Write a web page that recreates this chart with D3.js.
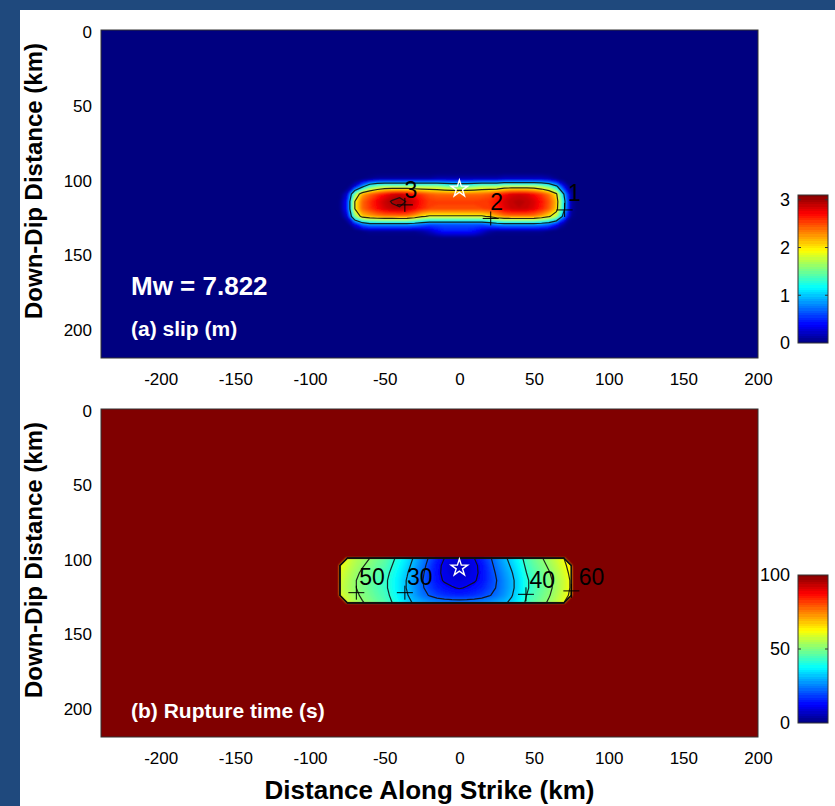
<!DOCTYPE html>
<html><head><meta charset="utf-8">
<script src="https://cdn.jsdelivr.net/npm/d3@7"></script>
<style>
html,body{margin:0;padding:0;background:#fff;}
svg{display:block;}
</style></head><body>
<svg id="fig" width="835" height="806"></svg>
<script>
// ---- fault-plane grid (km) ----
const strikeKm = [-90,-85,-80,-75,-70,-65,-60,-55,-50,-45,-40,-35,-30,-25,-20,-15,-10,-5,
                  0,5,10,15,20,25,30,35,40,45,50,55,60,65,70,75,80,85];
const dipKm = [95,100,105,110,115,120,125,130,135,140];

// slip (m), one row per down-dip position
const slipRows = [
  [0,0,0,0,0,0,0,0,0,0,0,0,0,0,0,0,0,0,0,0,0,0,0,0,0,0,0,0,0,0,0,0,0,0,0,0],
  [0,0,0,0,0,0.05,0.1,0.15,0.15,0.15,0.15,0.15,0.15,0.15,0.15,0.2,0.2,0.2,0.2,0.2,0.2,0.2,0.2,0.2,0.25,0.25,0.25,0.25,0.25,0.25,0.2,0.1,0.02,0,0,0],
  [0,0,0,0.02,0.3,0.9,1.4,1.6,1.7,1.7,1.7,1.7,1.7,1.7,1.7,1.7,1.6,1.5,1.5,1.5,1.6,1.7,1.7,1.7,1.8,1.8,1.8,1.8,1.8,1.7,1.5,1.1,0.4,0.02,0,0],
  [0,0,0.03,0.3,1.6,2.25,2.45,2.6,2.75,2.88,2.92,2.86,2.72,2.6,2.5,2.45,2.45,2.45,2.45,2.45,2.45,2.45,2.5,2.6,2.75,2.87,2.9,2.87,2.75,2.6,2.4,2.05,1.0,0.12,0,0],
  [0,0,0.06,0.5,2.0,2.45,2.62,2.8,2.93,3.02,3.08,2.98,2.88,2.7,2.6,2.58,2.58,2.58,2.58,2.58,2.58,2.6,2.62,2.72,2.88,2.95,2.98,2.95,2.88,2.72,2.52,2.2,1.15,0.15,0,0],
  [0,0,0.06,0.5,2.0,2.45,2.6,2.75,2.88,2.95,2.97,2.93,2.8,2.65,2.56,2.55,2.55,2.55,2.55,2.55,2.55,2.56,2.6,2.68,2.84,2.92,2.95,2.92,2.84,2.68,2.48,2.15,1.1,0.15,0,0],
  [0,0,0.03,0.3,1.6,2.15,2.25,2.35,2.4,2.4,2.42,2.4,2.25,2.05,1.95,1.95,1.95,1.95,1.95,1.95,1.95,1.95,2.05,2.25,2.38,2.42,2.42,2.42,2.38,2.25,2.05,1.75,0.8,0.1,0,0],
  [0,0,0,0.05,0.4,0.8,0.95,0.95,0.95,0.95,0.95,0.95,0.9,0.8,0.7,0.7,0.7,0.7,0.7,0.7,0.7,0.7,0.8,0.9,0.95,0.95,0.95,0.95,0.95,0.9,0.8,0.5,0.15,0,0,0],
  [0,0,0,0,0,0.05,0.1,0.1,0.1,0.1,0.1,0.1,0.1,0.15,0.25,0.4,0.5,0.5,0.5,0.5,0.45,0.3,0.15,0.1,0.1,0.1,0.1,0.1,0.1,0.1,0.05,0.02,0,0,0,0],
  [0,0,0,0,0,0,0,0,0,0,0,0,0,0,0,0,0,0,0,0,0,0,0,0,0,0,0,0,0,0,0,0,0,0,0,0]
];

// rupture time (s); null where the plane did not rupture
const _ = null;
const ruptureRows = [
  [_,_,_,_,_,_,_,_,_,_,_,_,_,_,_,_,_,_,_,_,_,_,_,_,_,_,_,_,_,_,_,_,_,_,_,_],
  [_,_,_,58,54,52,50,47.5,45.5,41.5,37.5,33.5,29,24.5,19,14,10,8,7,8,10,14,18.5,24,28.5,32.5,37,43,46.5,49.5,52.5,56,60,_,_,_],
  [_,_,60,56,53,50.5,48.5,46,44,40,36,32,27.5,23,17,12,8.5,6.5,5,6.5,8.5,12,17,22.5,27,31,35.5,41.5,45,48,51,54.5,58.5,63,_,_],
  [_,_,58,54.5,51.5,49,47,44.5,42.5,38.5,34.5,30.5,26,21.5,16,11.5,8.5,7,6,7,8.5,11.5,16,21,25.5,29.5,34,40,43.5,46.5,49.5,53,57,62,_,_],
  [_,_,57,53.5,50.5,48,46,43.5,41.5,37.5,33.5,29.5,25,20.5,16,12,9.3,8.2,7.5,8.2,9.3,12,16,20,24.5,28.5,33,39,42.5,45.5,48.5,52,56,61,_,_],
  [_,_,56,53,50.5,48,46,43.5,41.5,37.5,33.5,29.5,25.5,21,17,14,12,10.5,9.5,10.5,12,14,17,20.5,24.5,28.5,33,39,42.5,45.5,48.5,52,56,61,_,_],
  [_,_,57.5,54.5,51.5,49,47,44.5,42.5,38.5,34.5,30.5,26.5,22.5,19.5,17,15.5,14.5,14,14.5,15.5,17,19.5,22,25.5,29.5,34,40,43.5,46.5,49.5,53,57,62,_,_],
  [_,_,_,56,53,50.5,48.5,46,44,40,36,32,29,27.5,26,25,24.5,24,24,24,24.5,25,26,27.5,29,31.5,35.5,41.5,45,48,51,54.5,58.5,_,_,_],
  [_,_,_,_,_,_,_,_,_,_,_,_,_,_,_,_,_,_,_,_,_,_,_,_,_,_,_,_,_,_,_,_,_,_,_,_],
  [_,_,_,_,_,_,_,_,_,_,_,_,_,_,_,_,_,_,_,_,_,_,_,_,_,_,_,_,_,_,_,_,_,_,_,_]
];

// axes and colour bars
const strikeDomain = [-240, 200];
const dipDomain = [0, 220];
const strikeTicks = [-200,-150,-100,-50,0,50,100,150,200];
const dipTicks = [0,50,100,150,200];
const slipRange = [0, 3.1];
const slipBarTicks = [0,1,2,3];
const timeRange = [0, 100];
const timeBarTicks = [0,50,100];

// contour levels and their labels (anchor on the line, text position), km
const slipLevels = [1,2,3];
const slipLabels = [
  {value:3, at:[-36.5,117.3], text:[-32.5,107.5]},
  {value:2, at:[21,126.4],    text:[25,115.5]},
  {value:1, at:[70.5,120.7],  text:[77,109.5]}
];
const timeLevels = [10,20,30,40,50,60,70,80,90];
const timeLabels = [
  {value:50, at:[-69,123.2],  text:[-58.5,113]},
  {value:30, at:[-36.5,123.2],text:[-26.5,113]},
  {value:40, at:[44.6,124.3], text:[55.5,114.5]},
  {value:60, at:[75,122],     text:[88.5,113]}
];
const hypocenter = [0, 106.5];
const magnitude = 7.822;

// ---- drawing ----
const FONT = '"Liberation Sans", Arial, Helvetica, sans-serif';
const W = 835, H = 806;
const svg = d3.select('#fig');

svg.append('rect').attr('width', W).attr('height', H).attr('fill', '#fff');
svg.append('rect').attr('x', 0).attr('y', 0).attr('width', 20).attr('height', H).attr('fill', '#1f497d');
svg.append('rect').attr('x', 0).attr('y', 0).attr('width', W).attr('height', 10).attr('fill', '#1f497d');

const defs = svg.append('defs');
defs.append('filter').attr('id', 'soften')
  .append('feGaussianBlur').attr('stdDeviation', 0.8);

// MATLAB-style jet colour map
function jet(t) {
  const c = v => Math.round(255 * Math.max(0, Math.min(1, v)));
  return `rgb(${c(1.5 - Math.abs(4 * t - 3))},${c(1.5 - Math.abs(4 * t - 2))},${c(1.5 - Math.abs(4 * t - 1))})`;
}

const plotLeft = 101, plotRight = 758, plotH = 328;
const cbX = 798, cbW = 30, cbH = 148;
const nLevels = 64;

// slip grows inwards (regions above a level); rupture time grows outwards (regions below a level)
const panels = [
  {top: 30, rows: slipRows, range: slipRange, levels: slipLevels, labels: slipLabels,
   barTop: 195, barTicks: slipBarTicks, outwards: false, outside: slipRange[0]},
  {top: 409, rows: ruptureRows, range: timeRange, levels: timeLevels, labels: timeLabels,
   barTop: 575, barTicks: timeBarTicks, outwards: true, outside: timeRange[1]}
];

const nx = strikeKm.length, ny = dipKm.length;
const step = strikeKm[1] - strikeKm[0];

panels.forEach((p, pi) => {
  const x = d3.scaleLinear().domain(strikeDomain).range([plotLeft, plotRight]);
  const y = d3.scaleLinear().domain(dipDomain).range([p.top, p.top + plotH]);
  const color = d3.scaleSequential(jet).domain(p.range);
  const dv = (p.range[1] - p.range[0]) / nLevels;

  // grid units -> screen through the axis scales
  const gridPath = d3.geoPath(d3.geoTransform({
    point(gx, gy) {
      this.stream.point(x(strikeKm[0] + (gx - 0.5) * step), y(dipKm[0] + (gy - 0.5) * step));
    }
  }));

  const clipId = 'plotclip' + pi;
  defs.append('clipPath').attr('id', clipId).append('rect')
    .attr('x', plotLeft).attr('y', p.top).attr('width', plotRight - plotLeft).attr('height', plotH);

  const plot = svg.append('g').attr('clip-path', `url(#${clipId})`);
  plot.append('rect').attr('x', plotLeft).attr('y', p.top)
    .attr('width', plotRight - plotLeft).attr('height', plotH).attr('fill', color(p.outside));

  const raw = p.rows.flat();
  // outward-growing fields are contoured on their negative so every ring stays inside the grid
  const values = p.outwards ? raw.map(v => v == null ? null : -v) : raw;
  const sign = p.outwards ? -1 : 1;
  const levelValues = d3.range(1, nLevels).map(k => p.range[0] + k * dv);
  const bands = d3.contours().size([nx, ny]).smooth(true)
    .thresholds(levelValues.map(v => sign * v))(values);
  plot.append('g').attr('filter', 'url(#soften)')
    .selectAll('path').data(bands).join('path')
    .attr('d', gridPath)
    .attr('fill', d => color(sign * d.value - sign * dv / 2));

  const lines = d3.contours().size([nx, ny]).smooth(true)
    .thresholds(p.levels.map(v => sign * v))(values);
  plot.append('g').selectAll('path').data(lines).join('path')
    .attr('d', gridPath).attr('fill', 'none')
    .attr('stroke', '#111').attr('stroke-width', 1.2).attr('stroke-opacity', 0.9);

  // contour labels
  const lab = plot.append('g');
  lab.selectAll('path.mark').data(p.labels).join('path').attr('class', 'mark')
    .attr('transform', d => `translate(${x(d.at[0])},${y(d.at[1])})`)
    .attr('d', 'M-8,0H8M0,-7V7').attr('stroke', '#000').attr('stroke-width', 1).attr('fill', 'none');
  lab.selectAll('text').data(p.labels).join('text')
    .attr('x', d => x(d.text[0])).attr('y', d => y(d.text[1]))
    .attr('text-anchor', 'middle').attr('dominant-baseline', 'central')
    .attr('font-family', FONT).attr('font-size', 23).attr('fill', '#000')
    .text(d => d.value);

  // hypocentre
  plot.append('path')
    .attr('transform', `translate(${x(hypocenter[0])},${y(hypocenter[1])})`)
    .attr('d', d3.symbol(d3.symbolStar, 85)())
    .attr('fill', 'none').attr('stroke', '#fff').attr('stroke-width', 1.4);

  // frame
  svg.append('rect').attr('x', plotLeft).attr('y', p.top)
    .attr('width', plotRight - plotLeft).attr('height', plotH)
    .attr('fill', 'none').attr('stroke', '#333').attr('stroke-width', 1);

  // axes
  const xa = svg.append('g').attr('transform', `translate(0,${p.top + plotH})`)
    .call(d3.axisBottom(x).tickValues(strikeTicks).tickSize(0).tickPadding(15).tickFormat(d => String(d)));
  const ya = svg.append('g').attr('transform', `translate(${plotLeft},0)`)
    .call(d3.axisLeft(y).tickValues(dipTicks).tickSize(0).tickPadding(9).tickFormat(d => String(d)));
  [xa, ya].forEach(a => {
    a.select('.domain').remove();
    a.attr('font-family', FONT).attr('font-size', 17);
    a.selectAll('text').attr('fill', '#000');
  });
  ya.selectAll('text').attr('dy', '0.42em');

  svg.append('text')
    .attr('transform', `translate(33,${p.top + plotH / 2 - 13}) rotate(-90)`)
    .attr('text-anchor', 'middle').attr('dominant-baseline', 'central')
    .attr('font-family', FONT).attr('font-weight', 'bold').attr('font-size', 24).attr('fill', '#000')
    .text('Down-Dip Distance (km)');

  // colour bar
  const gradId = 'bar' + pi;
  const grad = defs.append('linearGradient').attr('id', gradId)
    .attr('x1', 0).attr('y1', 1).attr('x2', 0).attr('y2', 0);
  d3.range(nLevels).forEach(k => {
    const c = color(p.range[0] + (k + 0.5) * dv);
    grad.append('stop').attr('offset', k / nLevels).attr('stop-color', c);
    grad.append('stop').attr('offset', (k + 1) / nLevels).attr('stop-color', c);
  });
  const cb = d3.scaleLinear().domain(p.range).range([p.barTop + cbH, p.barTop]);
  svg.append('rect').attr('x', cbX).attr('y', p.barTop).attr('width', cbW).attr('height', cbH)
    .attr('fill', `url(#${gradId})`).attr('stroke', '#333').attr('stroke-width', 1);
  const inner = p.barTicks.filter(v => v > p.range[0] && v < p.range[1]);
  svg.append('g').selectAll('path').data(inner).join('path')
    .attr('d', v => `M${cbX},${cb(v)}h3M${cbX + cbW},${cb(v)}h-3`)
    .attr('stroke', '#333').attr('stroke-width', 1);
  const ca = svg.append('g').attr('transform', `translate(${cbX},0)`)
    .call(d3.axisLeft(cb).tickValues(p.barTicks).tickSize(0).tickPadding(8).tickFormat(d => String(d)));
  ca.select('.domain').remove();
  ca.attr('font-family', FONT).attr('font-size', 18);
  ca.selectAll('text').attr('fill', '#000');
});

// annotations inside the panels
svg.append('text').attr('x', 131).attr('y', 295)
  .attr('font-family', FONT).attr('font-weight', 'bold').attr('font-size', 26).attr('fill', '#fff')
  .text(`Mw = ${magnitude}`);
svg.append('text').attr('x', 131).attr('y', 336)
  .attr('font-family', FONT).attr('font-weight', 'bold').attr('font-size', 21).attr('fill', '#fff')
  .text('(a) slip (m)');
svg.append('text').attr('x', 131).attr('y', 718)
  .attr('font-family', FONT).attr('font-weight', 'bold').attr('font-size', 21).attr('fill', '#fff')
  .text('(b) Rupture time (s)');

svg.append('text').attr('x', (plotLeft + plotRight) / 2).attr('y', 799)
  .attr('text-anchor', 'middle')
  .attr('font-family', FONT).attr('font-weight', 'bold').attr('font-size', 26).attr('fill', '#000')
  .text('Distance Along Strike (km)');
</script>
</body></html>
